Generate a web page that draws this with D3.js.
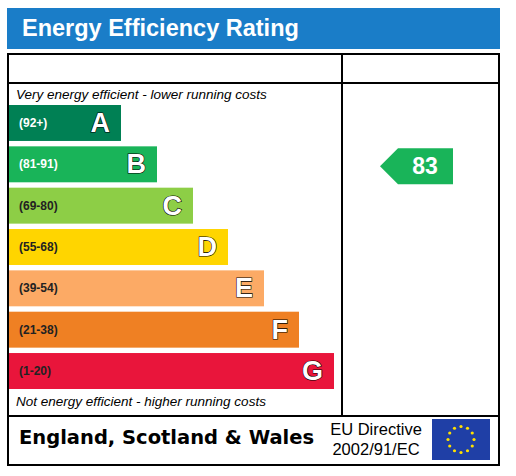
<!DOCTYPE html>
<html><head><meta charset="utf-8">
<script src="https://cdn.jsdelivr.net/npm/d3@7"></script>
<style>body{margin:0;background:#fff}</style>
</head><body><div id="chart"></div>
<script>
// Band data
const bands = ["A", "B", "C", "D", "E", "F", "G"];
const ranges = ["(92+)", "(81-91)", "(69-80)", "(55-68)", "(39-54)", "(21-38)", "(1-20)"];
const bandColors = ["#008054", "#19b459", "#8dce46", "#ffd500", "#fcaa65", "#ef8023", "#e9153b"];
const bandWidths = [112, 148, 184, 219, 255, 290, 325]; // bar lengths
const rating = 83;
const ratingBand = "B";

const svg = d3.select("#chart").append("svg").attr("width", 516).attr("height", 476)
    .style("font-family", "Liberation Sans, Arial, sans-serif");

// Title banner
svg.append("rect").attr("x", 7).attr("y", 8).attr("width", 493).attr("height", 41).attr("fill", "#1a7dc8");
svg.append("text").attr("x", 22).attr("y", 36).attr("fill", "#fff")
    .style("font-size", "23.5px").style("font-weight", "bold").text("Energy Efficiency Rating");

// Frame
const frame = svg.append("g").attr("stroke", "#000").attr("stroke-width", 2).attr("fill", "none");
frame.append("rect").attr("x", 8).attr("y", 54).attr("width", 491).attr("height", 411);
frame.append("line").attr("x1", 8).attr("x2", 499).attr("y1", 83).attr("y2", 83);
frame.append("line").attr("x1", 8).attr("x2", 499).attr("y1", 416).attr("y2", 416);
frame.append("line").attr("x1", 342).attr("x2", 342).attr("y1", 54).attr("y2", 416);

svg.append("text").attr("x", 16).attr("y", 99).style("font-size", "13.5px").style("font-style", "italic")
    .text("Very energy efficient - lower running costs");
svg.append("text").attr("x", 16).attr("y", 406).style("font-size", "13.5px").style("font-style", "italic")
    .text("Not energy efficient - higher running costs");

const y = d3.scaleBand().domain(bands).range([105, 389]).paddingInner(0.13).paddingOuter(0);
const x = d3.scaleLinear().domain([0, 100]).range([9, 109]);

const g = svg.selectAll(".band").data(bands).enter().append("g");
g.append("rect").attr("x", 9).attr("y", d => y(d))
    .attr("width", (d, i) => x(bandWidths[i]) - x(0)).attr("height", y.bandwidth())
    .attr("fill", (d, i) => bandColors[i]);
g.append("text").attr("x", 19).attr("y", d => y(d) + y.bandwidth() / 2 + 4)
    .style("font-size", "12px").style("font-weight", "bold")
    .attr("fill", (d, i) => i < 2 ? "#fff" : "#222").text((d, i) => ranges[i]);
g.append("text").attr("x", (d, i) => x(bandWidths[i]) - 11).attr("y", d => y(d) + y.bandwidth() / 2 + 9)
    .attr("text-anchor", "end").style("font-size", "27px").style("font-weight", "bold")
    .attr("fill", "#fff").attr("stroke", "#000").attr("stroke-width", 1.2).attr("paint-order", "stroke")
    .text(d => d);

// Current rating arrow
const ay = y(ratingBand) + 2, ah = y.bandwidth();
const ci = bands.indexOf(ratingBand);
svg.append("path")
    .attr("d", `M380,${ay + ah / 2} L398,${ay} L453,${ay} L453,${ay + ah} L398,${ay + ah} Z`)
    .attr("fill", bandColors[ci]);
svg.append("text").attr("x", 425).attr("y", ay + ah / 2 + 8).attr("text-anchor", "middle")
    .attr("fill", "#fff").style("font-size", "23px").style("font-weight", "bold").text(rating);

// Footer
svg.append("text").attr("x", 19).attr("y", 444).style("font-family", "DejaVu Sans, sans-serif")
    .style("font-size", "19.5px").style("font-weight", "bold").text("England, Scotland & Wales");
svg.append("text").attr("x", 376).attr("y", 435).attr("text-anchor", "middle").style("font-size", "16.5px").text("EU Directive");
svg.append("text").attr("x", 376).attr("y", 455).attr("text-anchor", "middle").style("font-size", "16.5px").text("2002/91/EC");
svg.append("rect").attr("x", 432).attr("y", 419).attr("width", 58).attr("height", 41).attr("fill", "#1f3fa6");
const stars = d3.range(12);
svg.selectAll(".star").data(stars).enter().append("circle")
    .attr("cx", d => 461 + 13 * Math.sin(d * Math.PI / 6))
    .attr("cy", d => 439.5 - 13 * Math.cos(d * Math.PI / 6))
    .attr("r", 1.6).attr("fill", "#ffe000");
</script></body></html>
